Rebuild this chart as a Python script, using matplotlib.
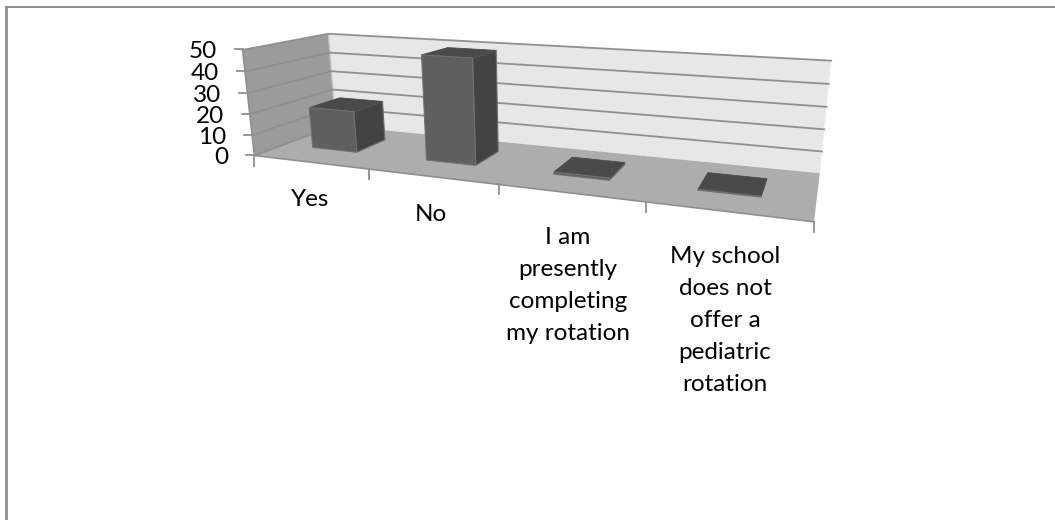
import numpy as np
import matplotlib
matplotlib.use("Agg")
import matplotlib.pyplot as plt
from matplotlib.patches import Polygon

categories = ["Yes", "No", "I am\npresently\ncompleting\nmy rotation",
              "My school\ndoes not\noffer a\npediatric\nrotation"]
values = [20, 49, 1, 0.3]
y_ticks = [0, 10, 20, 30, 40, 50]

# Screen positions of the plot box corners, used to calibrate the camera.
# (category fraction, depth fraction, height fraction) -> pixel
box_corners = {
    (0, 0, 0): (255, 154), (1, 0, 0): (814, 223),
    (0, 1, 0): (335, 127), (1, 1, 0): (820, 172),
    (0, 0, 1): (242, 50.5), (0, 1, 1): (329, 33),
    (1, 1, 1): (831, 61),
}


def solve_camera(pairs):
    rows = []
    for (x, y, z), (u, v) in pairs.items():
        rows.append([x, y, z, 1, 0, 0, 0, 0, -u * x, -u * y, -u * z, -u])
        rows.append([0, 0, 0, 0, x, y, z, 1, -v * x, -v * y, -v * z, -v])
    return np.linalg.svd(np.array(rows, float))[2][-1].reshape(3, 4)


CAM = solve_camera(box_corners)


def proj(x, y, z):
    p = CAM @ np.array([x, y, z, 1.0])
    return p[0] / p[2], p[1] / p[2]


def quad(ax, pts, fc, ec=None, lw=0.0, zorder=1):
    ax.add_patch(Polygon([proj(*p) for p in pts], closed=True, facecolor=fc,
                         edgecolor=ec if ec else fc, linewidth=lw, zorder=zorder))


plt.rcParams["font.family"] = ["Lato", "DejaVu Sans"]
fig = plt.figure(figsize=(10.55, 5.2), dpi=100, facecolor="white")
ax = fig.add_axes([0, 0, 1, 1])
ax.set_xlim(0, 1055)
ax.set_ylim(520, 0)
ax.axis("off")

GRID = "#8f8f8f"
Y_MAX = 50.0
FONT_SIZE = 17.5

# Outer chart frame: only the top and left edges are visible
ax.plot([6, 6], [520, 7], color="#8c8c8c", lw=1.9, zorder=0)
ax.plot([6, 1055], [7, 7], color="#8c8c8c", lw=1.4, zorder=0)

# Walls and floor
quad(ax, [(0, 0, 0), (0, 1, 0), (0, 1, 1), (0, 0, 1)], "#9b9b9b", zorder=1)
quad(ax, [(0, 1, 0), (1, 1, 0), (1, 1, 1), (0, 1, 1)], "#e7e7e7", zorder=1)
quad(ax, [(0, 0, 0), (1, 0, 0), (1, 1, 0), (0, 1, 0)], "#adadad", zorder=2)

# Gridlines wrap around the side and back walls
for t in y_ticks:
    h = t / Y_MAX
    pts = [proj(0, 0, h), proj(0, 1, h), proj(1, 1, h)]
    if t == 0:
        pts = pts[:2]
    ax.plot(*zip(*pts), color=GRID, lw=1.3, zorder=3)
    a = proj(0, 0, h)
    ax.plot([a[0], a[0] - 8], [a[1] - 0.5, a[1] - 0.5], color=GRID, lw=1.3, zorder=3)
    ax.text(a[0] - 26, a[1] + 2, str(t), ha="right", va="center",
            fontsize=FONT_SIZE, color="black", zorder=6)

# Axis edges of the box: front vertical and front floor edge are the strong ones
for seg in [((0, 0, 0), (0, 0, 1)), ((0, 0, 0), (1, 0, 0))]:
    ax.plot(*zip(proj(*seg[0]), proj(*seg[1])), color=GRID, lw=1.2, zorder=3)
ax.plot(*zip(proj(0, 1, 0), proj(0, 1, 1)), color="#c4c4c4", lw=1.0, zorder=2)

# Category ticks hang below the front edge of the floor
n = len(categories)
for i in range(n + 1):
    a = proj(i / n, 0, 0)
    ax.plot([a[0], a[0]], [a[1], a[1] + 10], color=GRID, lw=1.3, zorder=3)

# Bars, each with a 40 % footprint in its category cell
bar_w = 0.40 / n
y0, y1 = 0.34, 0.73
for i, v in enumerate(values):
    x0 = (i + 0.5) / n - bar_w / 2 - 0.009
    x1 = x0 + bar_w
    h = v / Y_MAX
    edge = "#707070"
    quad(ax, [(x1, y0, 0), (x1, y1, 0), (x1, y1, h), (x1, y0, h)], "#434343", edge, 0.8, 4)
    quad(ax, [(x0, y0, h), (x1, y0, h), (x1, y1, h), (x0, y1, h)], "#4a4a4a", "#4a4a4a", 0.6, 4)
    quad(ax, [(x0, y0, 0), (x1, y0, 0), (x1, y0, h), (x0, y0, h)], "#5f5f5f", edge, 0.8, 5)

# Category labels sit centred under each tick interval
label_anchor = [(310, 189), (431, 204), (568, 227), (725, 246)]
for (lx, ly), text in zip(label_anchor, categories):
    ax.text(lx, ly, text, ha="center", va="top", fontsize=FONT_SIZE, color="black",
            linespacing=1.65, zorder=6)

fig.savefig("out.png", dpi=100, facecolor="white")
